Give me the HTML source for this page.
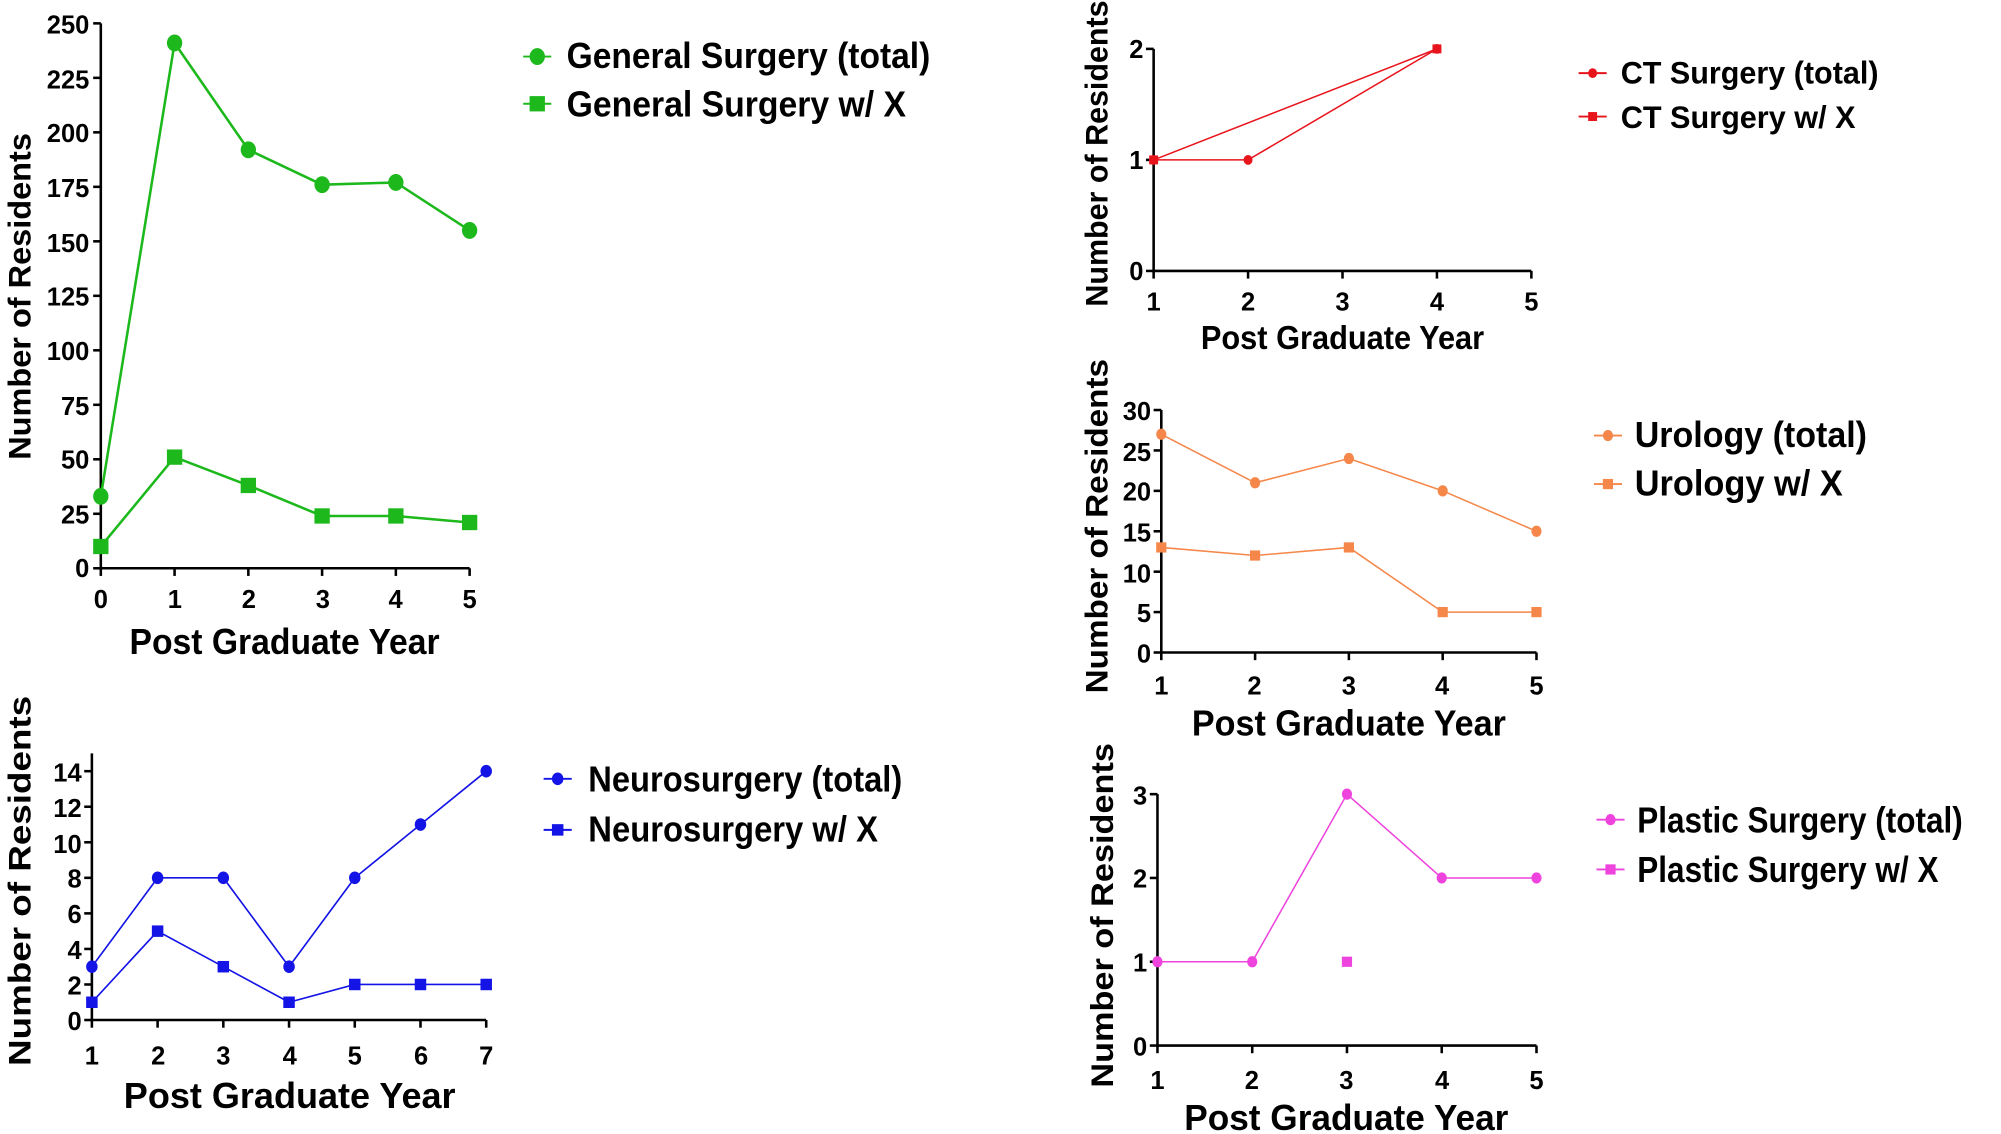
<!DOCTYPE html>
<html><head><meta charset="utf-8"><style>
html,body{margin:0;padding:0;background:#fff}
svg{display:block}
text{font-family:"Liberation Sans",Arial,sans-serif;font-weight:bold;fill:#000}
.t{font-size:20px}
.ax{font-size:28px}
.yt{font-size:25px}
.lg{font-size:28px}
</style></head><body>
<svg id="s" width="2001" height="1134" viewBox="0 0 1568 888" xmlns="http://www.w3.org/2000/svg">
<g id="axes" stroke="#000" stroke-width="2" fill="none"></g>
<g id="data"></g>
<!-- General Surgery -->
<g class="t" text-anchor="end">
<text x="70" y="26">250</text><text x="70" y="69">225</text><text x="70" y="111">200</text><text x="70" y="154">175</text><text x="70" y="197">150</text><text x="70" y="239">125</text><text x="70" y="282">100</text><text x="70" y="325">75</text><text x="70" y="367">50</text><text x="70" y="410">25</text><text x="70" y="452">0</text>
</g>
<g class="t" text-anchor="middle">
<text x="79" y="476">0</text><text x="137" y="476">1</text><text x="195" y="476">2</text><text x="253" y="476">3</text><text x="310" y="476">4</text><text x="368" y="476">5</text>
</g>
<text class="ax" x="223" y="512" text-anchor="middle" textLength="243" lengthAdjust="spacingAndGlyphs">Post Graduate Year</text>
<text class="yt" transform="translate(24,232) rotate(-90)" text-anchor="middle" textLength="256" lengthAdjust="spacingAndGlyphs">Number of Residents</text>
<text class="lg" x="444" y="53" textLength="285" lengthAdjust="spacingAndGlyphs">General Surgery (total)</text>
<text class="lg" x="444" y="91" textLength="266" lengthAdjust="spacingAndGlyphs">General Surgery w/ X</text>
<!-- CT -->
<g class="t" text-anchor="end"><text x="896" y="45">2</text><text x="896" y="132">1</text><text x="896" y="219">0</text></g>
<g class="t" text-anchor="middle"><text x="904" y="243">1</text><text x="978" y="243">2</text><text x="1052" y="243">3</text><text x="1126" y="243">4</text><text x="1200" y="243">5</text></g>
<text class="ax" x="1052" y="273" text-anchor="middle" textLength="222" lengthAdjust="spacingAndGlyphs" style="font-size:26px">Post Graduate Year</text>
<text class="yt" transform="translate(868,120) rotate(-90)" text-anchor="middle" textLength="240" lengthAdjust="spacingAndGlyphs">Number of Residents</text>
<text class="lg" x="1270" y="65" style="font-size:25px" textLength="202" lengthAdjust="spacingAndGlyphs">CT Surgery (total)</text>
<text class="lg" x="1270" y="100" style="font-size:25px" textLength="184" lengthAdjust="spacingAndGlyphs">CT Surgery w/ X</text>
<!-- Urology -->
<g class="t" text-anchor="end">
<text x="902" y="329">30</text><text x="902" y="361">25</text><text x="902" y="392">20</text><text x="902" y="424">15</text><text x="902" y="456">10</text><text x="902" y="487">5</text><text x="902" y="519">0</text>
</g>
<g class="t" text-anchor="middle"><text x="910" y="544">1</text><text x="983" y="544">2</text><text x="1057" y="544">3</text><text x="1130" y="544">4</text><text x="1204" y="544">5</text></g>
<text class="ax" x="1057" y="576" text-anchor="middle" textLength="246" lengthAdjust="spacingAndGlyphs">Post Graduate Year</text>
<text class="yt" transform="translate(868,412) rotate(-90)" text-anchor="middle" textLength="262" lengthAdjust="spacingAndGlyphs">Number of Residents</text>
<text class="lg" x="1281" y="350" textLength="182" lengthAdjust="spacingAndGlyphs">Urology (total)</text>
<text class="lg" x="1281" y="388" textLength="163" lengthAdjust="spacingAndGlyphs">Urology w/ X</text>
<!-- Neuro -->
<g class="t" text-anchor="end">
<text x="64" y="612">14</text><text x="64" y="640">12</text><text x="64" y="668">10</text><text x="64" y="695">8</text><text x="64" y="723">6</text><text x="64" y="751">4</text><text x="64" y="779">2</text><text x="64" y="807">0</text>
</g>
<g class="t" text-anchor="middle"><text x="72" y="834">1</text><text x="124" y="834">2</text><text x="175" y="834">3</text><text x="227" y="834">4</text><text x="278" y="834">5</text><text x="330" y="834">6</text><text x="381" y="834">7</text></g>
<text class="ax" x="227" y="868" text-anchor="middle" textLength="260" lengthAdjust="spacingAndGlyphs">Post Graduate Year</text>
<text class="yt" transform="translate(24,690) rotate(-90)" text-anchor="middle" textLength="290" lengthAdjust="spacingAndGlyphs">Number of Residents</text>
<text class="lg" x="461" y="620" textLength="246" lengthAdjust="spacingAndGlyphs">Neurosurgery (total)</text>
<text class="lg" x="461" y="659" textLength="227" lengthAdjust="spacingAndGlyphs">Neurosurgery w/ X</text>
<!-- Plastic -->
<g class="t" text-anchor="end"><text x="899" y="630">3</text><text x="899" y="695">2</text><text x="899" y="761">1</text><text x="899" y="827">0</text></g>
<g class="t" text-anchor="middle"><text x="907" y="853">1</text><text x="981" y="853">2</text><text x="1055" y="853">3</text><text x="1130" y="853">4</text><text x="1204" y="853">5</text></g>
<text class="ax" x="1055" y="885" text-anchor="middle" textLength="254" lengthAdjust="spacingAndGlyphs">Post Graduate Year</text>
<text class="yt" transform="translate(872,717) rotate(-90)" text-anchor="middle" textLength="270" lengthAdjust="spacingAndGlyphs">Number of Residents</text>
<text class="lg" x="1283" y="652" textLength="255" lengthAdjust="spacingAndGlyphs">Plastic Surgery (total)</text>
<text class="lg" x="1283" y="691" textLength="236" lengthAdjust="spacingAndGlyphs">Plastic Surgery w/ X</text>
</svg>
<script>
var NS="http://www.w3.org/2000/svg",ax=document.getElementById('axes'),dg=document.getElementById('data');
function el(p,t,a){var e=document.createElementNS(NS,t);for(var k in a)e.setAttribute(k,a[k]);p.appendChild(e);return e;}
function chart(c){
 var x0=c.x0,y0=c.y0,ytop=c.ytop;
 el(ax,'path',{d:'M'+x0+' '+ytop+'V'+y0+'H'+c.xs[c.xs.length-1]});
 c.yt.forEach(function(y){el(ax,'path',{d:'M'+(x0-6)+' '+y+'H'+x0});});
 c.xs.forEach(function(x){el(ax,'path',{d:'M'+x+' '+y0+'V'+(y0+6)});});
 c.series.forEach(function(s){
  var pts=s.pts.map(function(p){return [c.fx(p[0]),c.fy(p[1])];});
  if(s.line!==false) el(dg,'polyline',{points:pts.map(function(p){return p.join(',')}).join(' '),fill:'none',stroke:c.col,'stroke-width':c.lw||1.4});
  pts.forEach(function(p){marker(p[0],p[1],s.sq,c.ms,c.col);});
 });
 c.leg.forEach(function(l,i){
  el(dg,'path',{d:'M'+(l[0]-11)+' '+l[1]+'H'+(l[0]+11),stroke:c.col,'stroke-width':1.5});
  marker(l[0],l[1],i==1,c.ms,c.col);
 });
}
function marker(x,y,sq,r,col){
 if(sq) el(dg,'rect',{x:x-r,y:y-r,width:2*r,height:2*r,fill:col});
 else el(dg,'ellipse',{cx:x,cy:y,rx:r,ry:r*1.1,fill:col});
}
function lin(a,b,va,vb){return function(v){return a+(v-va)*(b-a)/(vb-va);};}
(function(){var fx=lin(79,368,0,5),fy=lin(445,18,0,250);var yt=[];for(var v=0;v<=250;v+=25)yt.push(fy(v));
chart({x0:79,y0:445,ytop:18,xs:[0,1,2,3,4,5].map(fx),yt:yt,fx:fx,fy:fy,col:'#1cb81c',ms:6,lw:2,
series:[{pts:[[0,33],[1,241],[2,192],[3,176],[4,177],[5,155]]},{sq:1,pts:[[0,10],[1,51],[2,38],[3,24],[4,24],[5,21]]}],
leg:[[421,44],[421,81]]});})();
(function(){var fx=lin(904,1200,1,5),fy=lin(212,38,0,2);
chart({x0:904,y0:212,ytop:38,xs:[1,2,3,4,5].map(fx),yt:[0,1,2].map(fy),fx:fx,fy:fy,col:'#e8141c',ms:3.5,lw:1.2,
series:[{pts:[[1,1],[2,1],[4,2]]},{sq:1,pts:[[1,1],[4,2]]}],leg:[[1248,57],[1248,91]]});})();
(function(){var fx=lin(910,1204,1,5),fy=lin(511,321,0,30);var yt=[];for(var v=0;v<=30;v+=5)yt.push(fy(v));
chart({x0:910,y0:511,ytop:321,xs:[1,2,3,4,5].map(fx),yt:yt,fx:fx,fy:fy,col:'#f5874a',ms:4,lw:1.2,
series:[{pts:[[1,27],[2,21],[3,24],[4,20],[5,15]]},{sq:1,pts:[[1,13],[2,12],[3,13],[4,5],[5,5]]}],leg:[[1260,341],[1260,379]]});})();
(function(){var fx=lin(72,381,1,7),fy=lin(799,604,0,14);var yt=[];for(var v=0;v<=14;v+=2)yt.push(fy(v));
chart({x0:72,y0:799,ytop:590,xs:[1,2,3,4,5,6,7].map(fx),yt:yt,fx:fx,fy:fy,col:'#1414e6',ms:4.5,lw:1.3,
series:[{pts:[[1,3],[2,8],[3,8],[4,3],[5,8],[6,11],[7,14]]},{sq:1,pts:[[1,1],[2,5],[3,3],[4,1],[5,2],[6,2],[7,2]]}],leg:[[437,610],[437,650]]});})();
(function(){var fx=lin(907,1204,1,5),fy=lin(819,622,0,3);
chart({x0:907,y0:819,ytop:622,xs:[1,2,3,4,5].map(fx),yt:[0,1,2,3].map(fy),fx:fx,fy:fy,col:'#ee44dd',ms:4,lw:1.2,
series:[{pts:[[1,1],[2,1],[3,3],[4,2],[5,2]]},{sq:1,line:false,pts:[[3,1]]}],leg:[[1262,642],[1262,681]]});})();
</script>
</body></html>
